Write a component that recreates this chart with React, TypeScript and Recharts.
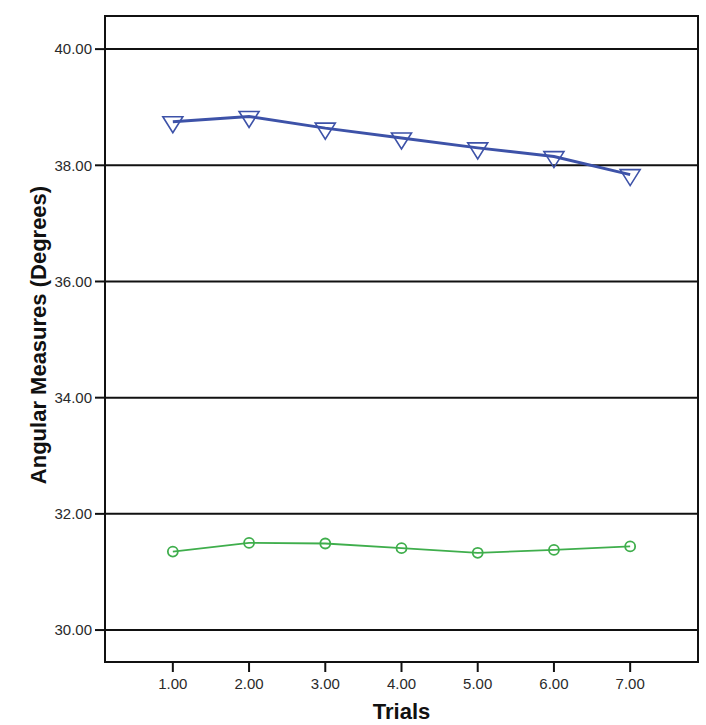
import React from 'react';
import {
  LineChart, Line, XAxis, YAxis, CartesianGrid, ReferenceArea
} from 'recharts';

const trials = [1, 2, 3, 4, 5, 6, 7];
const upperSeries = [38.75, 38.84, 38.64, 38.47, 38.30, 38.15, 37.84];
const lowerSeries = [31.35, 31.50, 31.49, 31.41, 31.33, 31.38, 31.44];
const yTicks = [30, 32, 34, 36, 38, 40];
const xTicks = [1, 2, 3, 4, 5, 6, 7];

const data = trials.map((t, i) => ({ trial: t, upper: upperSeries[i], lower: lowerSeries[i] }));

const BLUE = '#3d52a8';
const GREEN = '#3fae4c';
const FONT = '"Liberation Sans", Arial, sans-serif';

const X_DOMAIN: [number, number] = [0.11, 7.89];
const Y_DOMAIN: [number, number] = [29.45, 40.57];

function TriangleDot(props: any) {
  const { cx, cy, index } = props;
  if (cx == null || cy == null) return null;
  const d = `M${cx - 10},${cy - 5} L${cx + 10},${cy - 5} L${cx},${cy + 11} Z`;
  return <path key={`tri-${index}`} d={d} fill="none" stroke={BLUE} strokeWidth={1.6} />;
}

function CircleDot(props: any) {
  const { cx, cy, index } = props;
  if (cx == null || cy == null) return null;
  return <circle key={`circ-${index}`} cx={cx} cy={cy} r={5} fill="none" stroke={GREEN} strokeWidth={1.8} />;
}

// rotated y title, centred a little above the middle of the axis like the original
function YTitle(props: any) {
  const vb = props.viewBox || { x: 0, y: 16, width: 105, height: 646 };
  const x = 46;
  const y = vb.y + vb.height / 2 - 4;
  return (
    <text
      x={x}
      y={y}
      transform={`rotate(-90, ${x}, ${y})`}
      textAnchor="middle"
      fontFamily={FONT}
      fontWeight="bold"
      fontSize={22}
      fill="#111"
    >
      Angular Measures (Degrees)
    </text>
  );
}

export default function App() {
  return (
    <div style={{ position: 'absolute', left: 0, top: 0, background: '#fff' }}>
      <LineChart
        width={706}
        height={725}
        data={data}
        margin={{ top: 16, right: 8, bottom: 0, left: 0 }}
      >
        <CartesianGrid vertical={false} stroke="#111" strokeWidth={2} />
        <XAxis
          dataKey="trial"
          type="number"
          domain={X_DOMAIN}
          allowDataOverflow
          ticks={xTicks}
          tickFormatter={(v: number) => v.toFixed(2)}
          height={63}
          tickSize={10}
          tickMargin={6}
          axisLine={false}
          tickLine={{ stroke: '#111', strokeWidth: 2 }}
          tick={{ fill: '#2a2a2a', fontSize: 15, fontFamily: FONT }}
          label={{
            value: 'Trials',
            position: 'insideBottom',
            offset: 6,
            style: { fontFamily: FONT, fontWeight: 'bold', fontSize: 22, fill: '#111' },
          }}
        />
        <YAxis
          type="number"
          domain={Y_DOMAIN}
          allowDataOverflow
          ticks={yTicks}
          tickFormatter={(v: number) => v.toFixed(2)}
          width={105}
          tickSize={10}
          tickMargin={3}
          axisLine={false}
          tickLine={{ stroke: '#111', strokeWidth: 2 }}
          tick={{ fill: '#2a2a2a', fontSize: 15, fontFamily: FONT }}
          label={{ content: (p: any) => <YTitle {...p} /> }}
        />
        <ReferenceArea
          x1={X_DOMAIN[0]}
          x2={X_DOMAIN[1]}
          y1={Y_DOMAIN[0]}
          y2={Y_DOMAIN[1]}
          fill="none"
          fillOpacity={0}
          stroke="#111"
          strokeWidth={2}
        />
        <Line
          dataKey="upper"
          stroke={BLUE}
          strokeWidth={3}
          dot={(p: any) => <TriangleDot key={`u-${p.index}`} {...p} />}
          activeDot={false}
          isAnimationActive={false}
        />
        <Line
          dataKey="lower"
          stroke={GREEN}
          strokeWidth={1.8}
          dot={(p: any) => <CircleDot key={`l-${p.index}`} {...p} />}
          activeDot={false}
          isAnimationActive={false}
        />
      </LineChart>
    </div>
  );
}
